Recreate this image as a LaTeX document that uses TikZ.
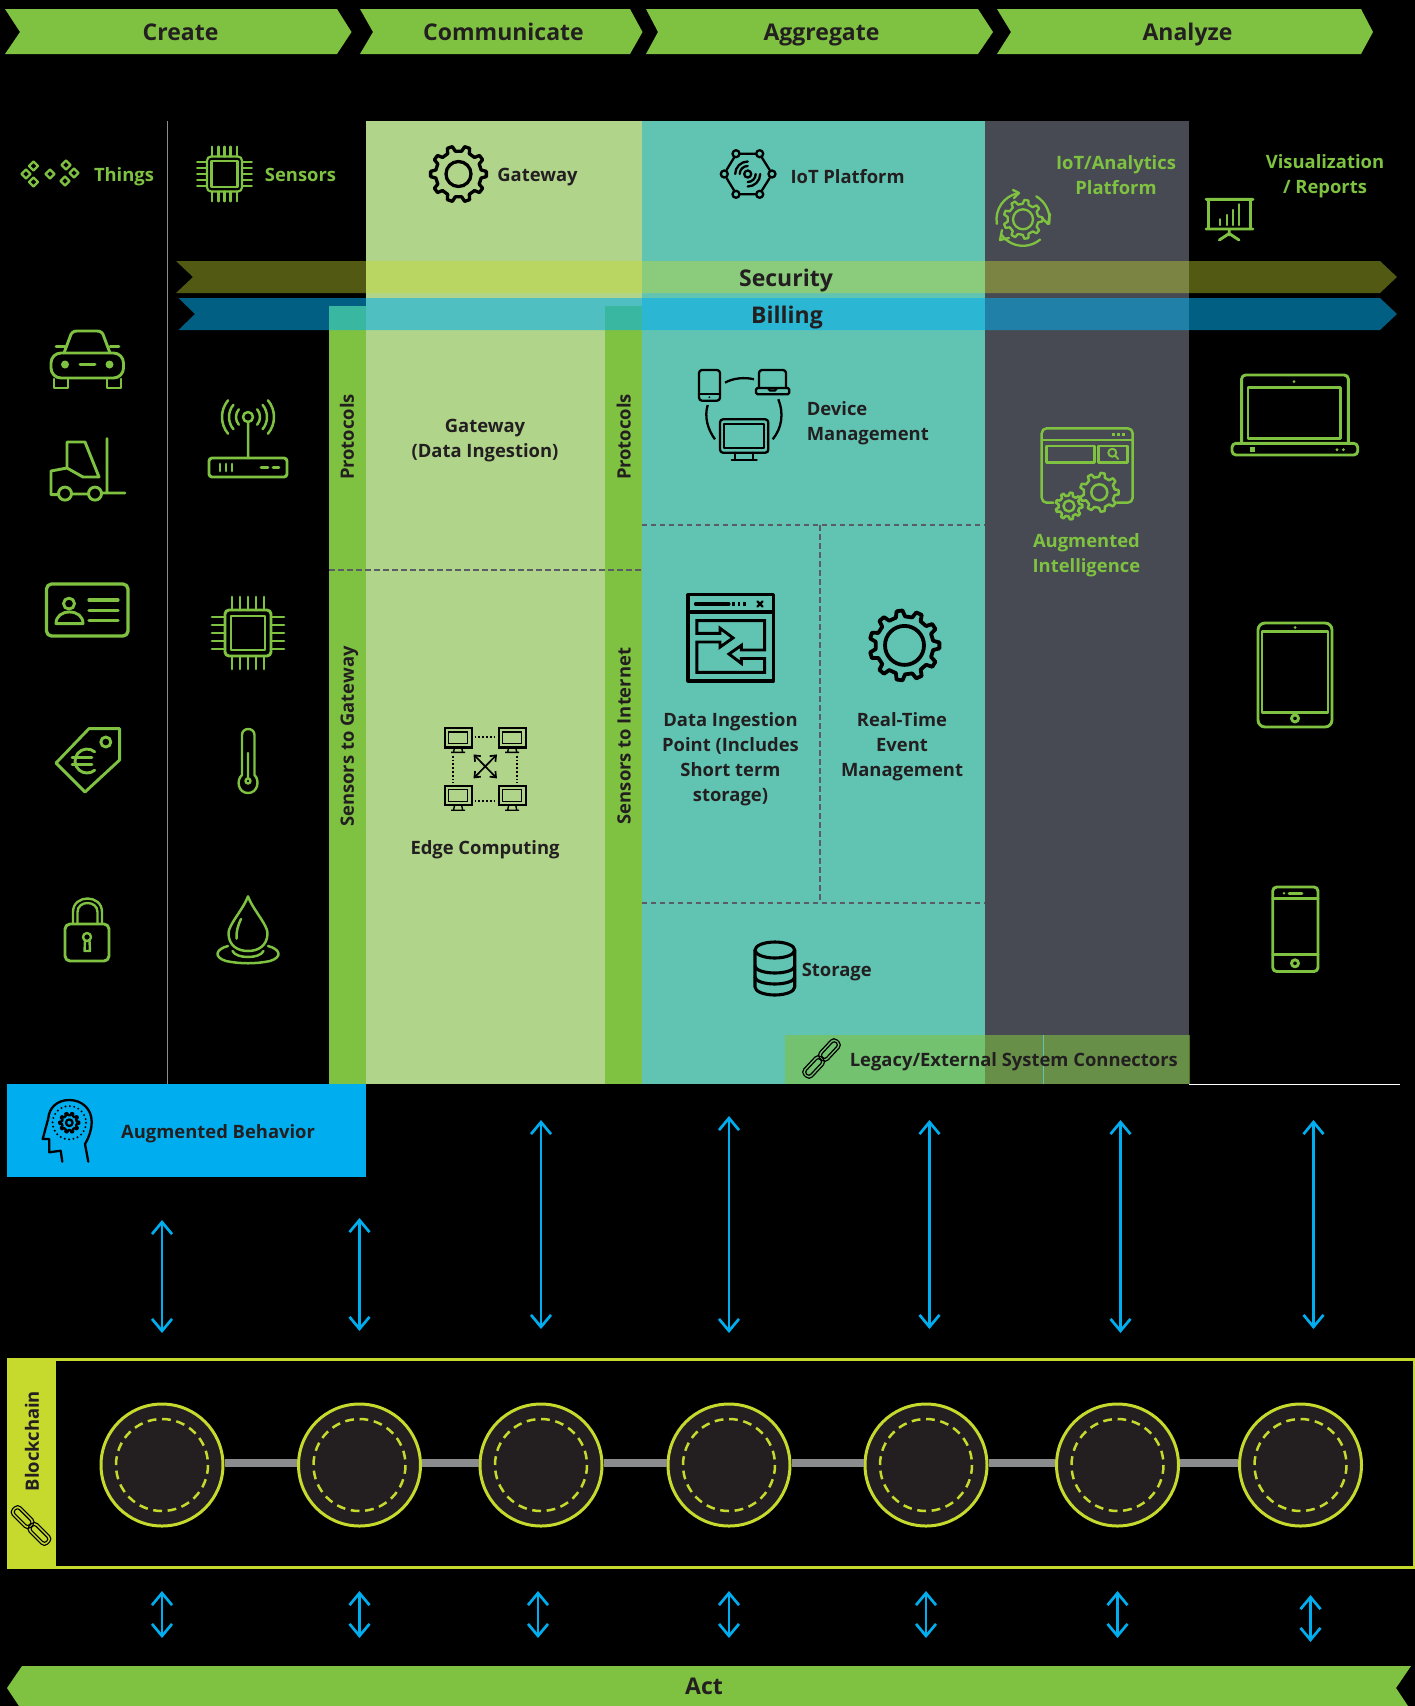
\documentclass[tikz,border=0pt]{standalone}
\usepackage{fontspec}
\setmainfont{Open Sans}
\usetikzlibrary{arrows.meta}
\definecolor{cgreen}{HTML}{7FC241}
\definecolor{cgate}{HTML}{B0D48A}
\definecolor{cteal}{HTML}{61C4B2}
\definecolor{cgray}{HTML}{474A52}
\definecolor{cblue}{HTML}{00AEEF}
\definecolor{cyel}{HTML}{C6D92D}
\definecolor{tdark}{HTML}{231F20}
\definecolor{cdash}{HTML}{5A5C66}
\definecolor{clink}{HTML}{8A8C8E}
\newcommand{\fs}[1]{\fontsize{#1}{25}\selectfont}
\newcommand{\gearicon}[7]{%
  \pgfmathsetmacro\gs{360/#6}%
  \draw[#1,shift={(#2,#3)}] ({-0.28*\gs}:#5)
    \foreach \k in {1,...,#6} {
      -- ({(\k-1)*\gs-0.28*\gs}:#5) -- ({(\k-1)*\gs-0.15*\gs}:#4)
      -- ({(\k-1)*\gs+0.15*\gs}:#4) -- ({(\k-1)*\gs+0.28*\gs}:#5)
    } -- cycle (0,0) circle (#7);}
\newcommand{\iarc}[6][]{\draw[#1] (#2,#3) ++(#5:#4pt) arc[start angle=#5,end angle=#6,radius=#4pt];}
\newcommand{\chipicon}[4]{%
  \begin{scope}[shift={(#2,#3)},scale=#4]
    \draw[#1,rounded corners=4] (-23,-23) rectangle (23,23);
    \draw[#1] (-17,-17) rectangle (17,17);
    \foreach \p in {-16,-8,0,8,16} {
      \draw[#1] (\p,-23)--(\p,-36) (\p,23)--(\p,36) (-23,\p)--(-36,\p) (23,\p)--(36,\p);}
  \end{scope}}
\newcommand{\chainicon}[5]{%
  \begin{scope}[shift={(#2,#3)},rotate=#4,scale=#5]
    \foreach \q in {-11,11} {
      \draw[#1,rounded corners=4.5] (\q-12,-5.5) rectangle (\q+12,5.5);
      \draw[#1,rounded corners=2.5] (\q-9.5,-2.8) rectangle (\q+9.5,2.8);}
  \end{scope}}
\newcommand{\monitoricon}[2]{%
  \begin{scope}[shift={(#1,#2)}]
    \draw[mono] (0,0) rectangle (27,19.5);
    \draw[mono,line width=1.4] (4,4) rectangle (23,15.5);
    \draw[mono,line width=1.4] (10,19.5)--(9,24) (17,19.5)--(18,24) (6.5,24.5)--(20.5,24.5);
  \end{scope}}
\tikzset{
  mlbl/.style={font=\bfseries\fs{18.4},text=tdark,align=center,inner sep=0pt},
  gmlbl/.style={mlbl,text=cgreen},
  lbl/.style={mlbl,text height=13.5pt,text depth=0pt},
  biglbl/.style={lbl,font=\bfseries\fs{23},text height=16.8pt},
  glbl/.style={lbl,text=cgreen},
  chev/.style={fill=cgreen,draw=none},
  ic/.style={draw=cgreen,line width=2.9,line join=round,line cap=round,fill=none},
  icthin/.style={ic,line width=2.2},
  blk/.style={draw=black,line width=3.1,line join=round,line cap=round,fill=none},
  blkthin/.style={blk,line width=2.3},
  mono/.style={draw=black,line width=2.2,fill=none},
  dashy/.style={draw=cdash,line width=2,dash pattern=on 5.5pt off 3.5pt},
  bi/.style={draw=cblue,line width=2.7,{Straight Barb[length=12pt,width=20pt]}-{Straight Barb[length=12pt,width=20pt]}},
  bcirc/.style={circle,draw=cyel,line width=3,fill=tdark,minimum size=122pt,inner sep=0pt},
  blink/.style={draw=clink,line width=8},
}
\begin{document}
\begin{tikzpicture}[x=1pt,y=-1pt]
\fill[black] (0,0) rectangle (1415,1706);
\useasboundingbox (0,0) rectangle (1415,1706);

% top chevrons
\fill[chev] (5,9)--(337,9)--(351.5,32)--(337,54)--(5,54)--(20,32)--cycle;
\fill[chev] (360,9)--(630,9)--(642.5,32)--(630,54)--(360,54)--(373,32)--cycle;
\fill[chev] (646,9)--(978,9)--(993,32)--(978,54)--(646,54)--(658,32)--cycle;
\fill[chev] (997,9)--(1361,9)--(1373,32)--(1361,54)--(997,54)--(1011,32)--cycle;
\node[biglbl] (create) at (180.5,32) {Create};
\node[biglbl] (comm) at (503.5,32) {Communicate};
\node[biglbl] (aggr) at (821.5,32) {Aggregate};
\node[biglbl] (anal) at (1187.5,32) {Analyze};

% column panels
\draw[draw=clink,line width=1] (167.5,121)--(167.5,1084);
\fill[cgate] (366,121) rectangle (641.5,1084);
\fill[cteal] (641.5,121) rectangle (984.5,1084);
\fill[cgray] (984.5,121) rectangle (1189,1084);
\fill[cgreen] (329,306) rectangle (366,1084);
\fill[cgreen] (604.5,306) rectangle (641.5,1084);
\draw[draw=white,line width=1] (1189,1084)--(1400,1084);

% dashed dividers
\draw[dashy] (329,570)--(641.5,570);
\draw[dashy] (641.5,524.7)--(984.5,524.7);
\draw[dashy] (819.5,525)--(819.5,902.7);
\draw[dashy] (641.5,902.7)--(984.5,902.7);

% bands
\fill[cyel,opacity=0.41] (176,261)--(1380,261)--(1397,277)--(1380,293)--(176,293)--(193,277)--cycle;
\fill[cblue,opacity=0.55] (178.5,298)--(1380,298)--(1397,314)--(1380,330)--(178.5,330)--(195,314)--cycle;
\node[biglbl] (security) at (786,278) {Security};
\node[biglbl] (billing) at (787,315) {Billing};

% header labels
\node[glbl] (things) at (124,175) {Things};
\node[glbl] (sensors) at (300.5,175) {Sensors};
\node[lbl] (gatewayh) at (537.5,175) {Gateway};
\node[lbl] (iotp) at (847.6,176.5) {IoT Platform};
\node[gmlbl] (iota) at (1116,175.2) {IoT/Analytics\\Platform};
\node[gmlbl] (viz) at (1325,176.7) {Visualization\\/ Reports};

% things diamonds
\foreach \dx/\dy in {33.5/166,26/174,33.5/182,50/174,66/165,74/173,65/181}
  \draw[icthin] (\dx-4.5,\dy)--(\dx,\dy-4.5)--(\dx+4.5,\dy)--(\dx,\dy+4.5)--cycle;

% header chip and gateway gear
\chipicon{icthin}{224.5}{174}{0.76}
\gearicon{blk,line width=3.3}{458.5}{174}{28}{23}{10}{12.5}

% iot platform icon
\foreach \cx/\cy in {736/153.7,759.7/153.7,772/174,759.7/194.3,736/194.3,724.3/174,747.7/174}
  \draw[blkthin] (\cx,\cy) circle (3.5);
\draw[blkthin] (740,153.7)--(755.7,153.7) (740,194.3)--(755.7,194.3)
  (734,157.7)--(726.5,170) (762,157.7)--(769.7,170) (726.5,178)--(734,190.3) (769.7,178)--(762,190.3);
\iarc[blkthin]{747.7}{174}{8}{90}{180}
\iarc[blkthin]{747.7}{174}{12.5}{90}{180}
\iarc[blkthin]{747.7}{174}{8}{-90}{0}
\iarc[blkthin]{747.7}{174}{12.5}{-90}{0}

% iot analytics icon
\gearicon{ic,line width=2.3}{1023}{219.3}{19.5}{15.5}{9}{10}
\iarc[ic,line width=2.3]{1023}{219.3}{26.5}{100}{190}
\iarc[ic,line width=2.3]{1023}{219.3}{26.5}{60}{-10}
\iarc[ic,line width=2.3]{1023}{219.3}{26.5}{215}{310}
\draw[ic,line width=2.3] (1013,190)--(1019,193)--(1014,198) (1050,214)--(1048,224)--(1042,218) (1002,230)--(1000,240)--(1009,238);

% visualization icon
\draw[ic] (1206,199.3)--(1253,199.3) (1206,229)--(1253,229) (1208.5,199.3)--(1208.5,229) (1250.5,199.3)--(1250.5,229)
  (1229.2,229)--(1229.2,235) (1219.3,240)--(1229.2,233.5)--(1239,240);
\draw[ic,line width=2.4] (1220,225)--(1220,219.3) (1226.7,225)--(1226.7,215) (1233,225)--(1233,210) (1239,225)--(1239,204.3);

% protocol bars labels
\node[lbl,rotate=90] (prot1) at (347.2,437) {Protocols};
\node[lbl,rotate=90] (prot2) at (623.8,437) {Protocols};
\node[lbl,rotate=90] (s2g) at (347.2,736.5) {Sensors to Gateway};
\node[lbl,rotate=90] (s2i) at (623.8,736) {Sensors to Internet};

% gateway column
\node[mlbl] (gwing) at (485,440.5) {Gateway\\(Data Ingestion)};
\node[lbl] (edge) at (485,847.5) {Edge Computing};
\monitoricon{444.6}{727.9}
\monitoricon{498.7}{727.9}
\monitoricon{444.6}{785.7}
\monitoricon{498.7}{785.7}
\draw[draw=black,line width=2,dash pattern=on 1.8pt off 2pt] (474.6,736.8)--(495.5,736.8) (474.6,801)--(495.5,801) (453,755.7)--(453,783) (517,755.7)--(517,783);
\draw[draw=black,line width=1.7,{Straight Barb[length=5pt,width=8pt]}-{Straight Barb[length=5pt,width=8pt]}] (473.5,754.4)--(497,778.4);
\draw[draw=black,line width=1.7,{Straight Barb[length=5pt,width=8pt]}-{Straight Barb[length=5pt,width=8pt]}] (497,754.4)--(473.5,778.4);

% device management
\draw[blkthin,rounded corners=3] (699,370) rectangle (720,400.7);
\draw[blkthin] (699,394)--(720,394);
\fill[black] (709.3,397.2) circle (1);
\draw[blkthin,rounded corners=3] (759,388)--(759,370)--(786,370)--(786,388);
\draw[blkthin,rounded corners=1.5] (756,388) rectangle (789.3,394.3);
\draw[blkthin] (768,388)--(770,390.5)--(775,390.5)--(777,388);
\draw[blkthin,rounded corners=3] (720,419.3) rectangle (768.3,452.7);
\draw[blkthin] (724.3,424) rectangle (763.7,447.7);
\draw[blkthin] (735,452.7)--(735,459.5) (753.3,452.7)--(753.3,459.5) (731.7,459.7)--(756.7,459.7);
\draw[blkthin,line cap=butt] (725,382.7) .. controls (733,378) and (745,377) .. (754,379.3);
\draw[blkthin,line cap=butt] (707.7,405) .. controls (704,417) and (708,430) .. (715,439.3);
\draw[blkthin,line cap=butt] (778.3,399.3) .. controls (784,413) and (782,428) .. (772.7,439.3);
\node[mlbl,align=left,anchor=west] (devmgmt) at (806.6,423.5) {Device\\Management};

% data ingestion
\draw[blk] (688,594.8) rectangle (773.5,681);
\draw[blk] (688,612)--(773.5,612);
\draw[blk] (695.4,604)--(729,604);
\draw[blk,line cap=butt,dash pattern=on 2.5pt off 3pt] (732,604)--(747,604);
\draw[blkthin] (757.5,601.5)--(762.5,606.5) (757.5,606.5)--(762.5,601.5);
\draw[blk,line width=2.9,line cap=butt,line join=miter] (696.8,620.6)--(696.8,633.4)--(720,633.4)--(720,628.2)--(733,637.9)--(720,647.1)--(720,642)--(696.8,642)--(696.8,672.3)--(764.6,672.3)--(764.6,658.5)--(741.3,658.5)--(741.3,663.3)--(729,654)--(741.3,645.4)--(741.3,650)--(764.6,650)--(764.6,620.6)--cycle;
\node[mlbl] (dip) at (730.5,759) {Data Ingestion\\Point (Includes\\Short term\\storage)};

% real time
\gearicon{blk,line width=3.8}{904.5}{645.4}{35}{29}{11}{19.5}
\node[mlbl] (rtem) at (902,746.5) {Real-Time\\Event\\Management};

% storage
\draw[blk] (755,950) -- (755,987) arc[start angle=180,end angle=360,x radius=19.85pt,y radius=8pt] -- (794.7,950);
\draw[blk] (774.85,950) ellipse (19.85 and 8);
\draw[blk] (755,966) arc[start angle=180,end angle=360,x radius=19.85pt,y radius=7pt];
\draw[blk] (755,977) arc[start angle=180,end angle=360,x radius=19.85pt,y radius=7pt];
\node[lbl,anchor=west] (storage) at (801.6,970) {Storage};

% augmented intelligence icon
\draw[ic,line width=2.5,rounded corners=5] (1053.3,502.7)--(1041.7,502.7)--(1041.7,428.3)--(1132.7,428.3)--(1132.7,502.7)--(1116.7,502.7);
\draw[ic,line width=2.5] (1041.7,440)--(1132.7,440);
\draw[ic,line width=2.5,line cap=butt,dash pattern=on 3pt off 2pt] (1111.8,434.3)--(1125,434.3);
\draw[ic,line width=2.5] (1046.7,446) rectangle (1094.3,462.3);
\draw[ic,line width=2.5] (1098.7,446) rectangle (1127.7,462.3);
\draw[ic,line width=1.9] (1112.3,452.7) circle (4) (1115.3,455.7)--(1118.3,459);
\gearicon{ic,line width=2.5}{1099.3}{492.3}{19.5}{15.5}{9}{8}
\gearicon{ic,line width=2.5}{1069}{506}{13.5}{10.5}{9}{5.5}
\node[gmlbl] (augint) at (1086.4,555.7) {Augmented\\Intelligence};

% things icons: car
\draw[ic] (64,353)--(70,337) .. controls (71,333) and (73,331) .. (77,331)--(97,331) .. controls (101,331) and (103,333) .. (104,337)--(110,353);
\draw[ic,rounded corners=10] (51,378)--(51,353)--(123.5,353)--(123.5,378)--cycle;
\draw[ic] (56,346.5)--(65,346.5) (110,346.5)--(119,346.5);
\fill[cgreen] (65,364.5) circle (4) (109.5,364.5) circle (4);
\draw[ic,line width=3] (80,364.5)--(95,364.5);
\draw[ic] (54,379)--(54,388)--(68,388)--(68,379) (107,379)--(107,388)--(121,388)--(121,379);

% forklift
\draw[ic] (67,468)--(67,442)--(85,442)--(99,477)--(83,477)--(67,468)--(51,471)--(51,494.6)--(58,494.6)
  (72,494)--(88,494) (102,493)--(125,493) (107,438.6)--(107,493);
\draw[ic] (65,493.6) circle (6.5) (95,493.6) circle (6.5);

% id card
\draw[ic,line width=3.3,rounded corners=5] (46.5,584) rectangle (128,636);
\draw[ic] (69,603.6) circle (5.5);
\draw[ic] (56,623.6)--(83,623.6) .. controls (83,616) and (77,612) .. (69.5,612) .. controls (62,612) and (56,616) .. (56,623.6)--cycle;
\draw[ic,line width=3.3] (89,600)--(118,600) (89,610.5)--(118,610.5) (89,620.7)--(118,620.7);

% euro tag
\draw[ic] (119.6,728.6)--(89,728.6)--(56,763)--(85,792)--(119.6,760)--cycle;
\draw[ic] (105.8,742) circle (5);
\iarc[ic]{87}{761}{12}{50}{310}
\draw[ic] (72,757.5)--(92,757.5) (72,764.5)--(92,764.5);

% lock
\draw[ic,rounded corners=5] (65,924) rectangle (109,961);
\draw[ic,line width=2.4] (73,924)--(73,912) .. controls (73,894) and (102,894) .. (102,912)--(102,924);
\draw[ic,line width=2.4] (77.5,924)--(77.5,912) .. controls (77.5,900) and (97.5,900) .. (97.5,912)--(97.5,924);
\draw[ic,line width=2.4] (83,937) arc[start angle=180,end angle=-180,radius=4pt];
\draw[ic,line width=2.4] (85,941)--(84.5,951)--(90,951)--(89.5,941);

% sensors column: router
\iarc[ic,line width=2.5]{248}{417}{12}{140}{220}
\iarc[ic,line width=2.5]{248}{417}{19}{140}{220}
\iarc[ic,line width=2.5]{248}{417}{26}{140}{220}
\iarc[ic,line width=2.5]{248}{417}{12}{-40}{40}
\iarc[ic,line width=2.5]{248}{417}{19}{-40}{40}
\iarc[ic,line width=2.5]{248}{417}{26}{-40}{40}
\draw[ic,line width=2.5] (248,417) circle (5) (248,422)--(248,458);
\draw[ic,rounded corners=3] (209,458) rectangle (287,477);
\draw[ic] (220,464)--(220,471) (226,464)--(226,471) (232,464)--(232,471) (261,467.5)--(268,467.5) (273,467.5)--(279,467.5);

% chip
\chipicon{ic}{248}{633}{1}

% thermometer
\draw[ic,line width=2.4] (242,775) -- (242,735) .. controls (242,727) and (254.5,727) .. (254.5,735) -- (254.5,775)
  .. controls (260,780) and (258,793) .. (248,793) .. controls (238,793) and (236,780) .. (242,775) -- cycle;
\draw[ic,line width=2.4] (248,781) circle (2.5) (248,753)--(248,778);

% droplet
\draw[ic,line width=2.5] (248,896.4) .. controls (244,908) and (228.5,925) .. (228.5,933)
  .. controls (228.5,946) and (238,951) .. (248,951)
  .. controls (258,951) and (267.5,946) .. (267.5,933)
  .. controls (267.5,925) and (252,908) .. (248,896.4) -- cycle;
\draw[ic,line width=2.5] (241,919) .. controls (238,925) and (236,932) .. (236.6,938.6);
\draw[ic,line width=2.5] (228,946) .. controls (216,949) and (213,957) .. (226,961)
  .. controls (240,964) and (256,964) .. (270,961)
  .. controls (283,957) and (280,949) .. (268,946);
\draw[ic,line width=2.5] (232.5,951) .. controls (236,959) and (260,959) .. (263.5,951);

% right column devices: laptop
\draw[ic,rounded corners=4] (1241.6,443.3)--(1241.6,375)--(1348.3,375)--(1348.3,443.3);
\draw[ic] (1248,387.3) rectangle (1340.4,438.3);
\draw[ic,rounded corners=4] (1232,443.3)--(1232,455)--(1357.7,455)--(1357.7,443.3)--cycle;
\fill[cgreen] (1294,381.7) circle (1.5) (1337,449.7) circle (1.6) (1343.4,449.7) circle (1.6);
\fill[cgreen] (1249.5,447.2) rectangle (1254.5,452.2);

% tablet
\draw[ic,rounded corners=7] (1258,623) rectangle (1332,727);
\draw[ic] (1262,631.6) rectangle (1328,712.6);
\fill[cgreen] (1295,627.5) circle (1.5);
\draw[ic] (1295,718.4) circle (3.5);

% phone
\draw[ic,rounded corners=4] (1272.7,887) rectangle (1318,971.5);
\draw[ic] (1272.7,898.5)--(1318,898.5) (1272.7,954.7)--(1318,954.7) (1289,893.2)--(1302,893.2);
\fill[cgreen] (1284,893.2) circle (1.4);
\draw[ic] (1295,963.3) circle (3.5);

% legacy band
\fill[cgreen,opacity=0.58] (785,1035) rectangle (1189.7,1084);
\draw[draw=cteal,line width=0.7] (1043,1035)--(1043,1084);
\chainicon{blkthin,line width=1.2}{821.5}{1058.5}{47}{1.05}
\node[lbl,anchor=west] (legacy) at (849.6,1059.5) {Legacy/External System Connectors};

% augmented behavior
\fill[cblue] (7,1084) rectangle (366,1177);
\draw[blkthin] (88.3,1161.7)--(85,1144) .. controls (89,1137) and (91.7,1130) .. (91.7,1121.7)
  .. controls (91.7,1109) and (82,1100) .. (69.3,1100) .. controls (57,1100) and (49,1108) .. (48.3,1118.3)
  --(42.7,1139)--(49.3,1139)--(49.3,1152.3)--(60.7,1150.7)--(62.3,1161.7);
\draw[draw=black,line width=2.2,line cap=round,dash pattern=on 0pt off 4.4pt] (69.3,1122.7) circle (16.7);
\gearicon{blkthin}{69.3}{1122.7}{10}{7.5}{10}{3.3}
\node[lbl,anchor=west] (augbeh) at (121,1131.5) {Augmented Behavior};

% upper bidirectional arrows
\foreach \n/\ax/\ta/\ba in {1/162/1220/1333,2/359.5/1218/1331,3/541/1120/1329,4/729/1116/1333,5/929.5/1120/1329,6/1120.5/1120/1333,7/1313.5/1120/1329} {
  \coordinate (ut\n) at (\ax,\ta);
  \coordinate (ub\n) at (\ax,\ba);
  \draw[bi] (ut\n)--(ub\n);
}

% blockchain
\draw[draw=cyel,line width=2.6] (55,1359.6) rectangle (1414,1567.4);
\fill[cyel] (7,1358.3) rectangle (55.5,1568.7);
\node[lbl,rotate=90] (blockchain) at (32,1441) {Blockchain};
\chainicon{blkthin,line width=1.1}{31}{1525.5}{-45}{1.08}
\node[bcirc] (c1) at (162,1465) {};
\node[bcirc] (c2) at (359.5,1465) {};
\node[bcirc] (c3) at (541,1465) {};
\node[bcirc] (c4) at (729,1465) {};
\node[bcirc] (c5) at (926,1465) {};
\node[bcirc] (c6) at (1117.5,1465) {};
\node[bcirc] (c7) at (1300.5,1465) {};
\foreach \pa/\pb in {c1/c2,c2/c3,c3/c4,c4/c5,c5/c6,c6/c7}
  \draw[blink] ([yshift=1.7pt]\pa.east)--([yshift=1.7pt]\pb.west);
\foreach \cc in {c1,c2,c3,c4,c5,c6,c7}
  \draw[draw=cyel,line width=2.5,dash pattern=on 8.8pt off 5.65pt] (\cc) circle (46);

% lower bidirectional arrows
\foreach \n/\ax/\ta/\ba in {1/162/1591/1638,2/359.5/1591/1638,3/538/1591/1638,4/729/1591/1638,5/926/1591/1638,6/1117.5/1591/1638,7/1310.5/1595/1642} {
  \coordinate (lt\n) at (\ax,\ta);
  \coordinate (lb\n) at (\ax,\ba);
  \draw[bi] (lt\n)--(lb\n);
}

% act
\fill[chev] (7,1688)--(22,1666)--(1411,1666)--(1396,1688)--(1408,1706)--(19,1706)--cycle;
\node[biglbl] (act) at (704,1686) {Act};
\end{tikzpicture}
\end{document}
